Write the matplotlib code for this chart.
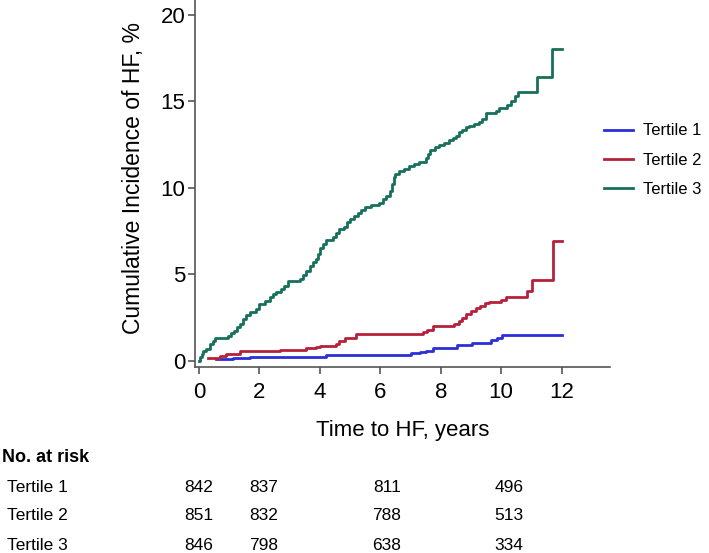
import matplotlib
matplotlib.use("Agg")
import matplotlib.pyplot as plt

plt.rcParams['font.family'] = ['Liberation Sans', 'DejaVu Sans']

# Tertile 3 (green)
t3_time = [0, 0.05, 0.1, 0.15, 0.25, 0.35, 0.45, 0.53, 0.97, 1.05, 1.15, 1.25, 1.35, 1.45,
           1.55, 1.68, 1.9, 2.0, 2.2, 2.34, 2.45, 2.56, 2.7, 2.8, 2.95, 3.33, 3.45, 3.55,
           3.66, 3.77, 3.88, 3.95, 4.02, 4.1, 4.21, 4.43, 4.55, 4.65, 4.8, 4.9, 5.0, 5.12,
           5.25, 5.35, 5.5, 5.7, 5.97, 6.08, 6.2, 6.32, 6.4, 6.45, 6.5, 6.63, 6.8, 6.96,
           7.1, 7.29, 7.51, 7.58, 7.65, 7.8, 7.95, 8.1, 8.28, 8.4, 8.5, 8.62, 8.72, 8.83,
           8.94, 9.1, 9.27, 9.38, 9.49, 9.65, 9.82, 9.93, 10.2, 10.32, 10.45, 10.54, 11.2,
           11.69, 12.0]
t3_cum = [0, 0.2, 0.4, 0.55, 0.7, 0.95, 1.15, 1.35, 1.45, 1.6, 1.75, 1.95, 2.15, 2.4,
          2.65, 2.85, 3.0, 3.3, 3.45, 3.7, 3.85, 4.0, 4.15, 4.35, 4.6, 4.75, 4.95, 5.2,
          5.5, 5.7, 5.9, 6.2, 6.5, 6.75, 6.97, 7.15, 7.4, 7.63, 7.75, 8.0, 8.2, 8.35,
          8.55, 8.7, 8.9, 9.0, 9.15, 9.35, 9.55, 9.8, 10.2, 10.6, 10.8, 10.95, 11.1, 11.25,
          11.4, 11.5, 11.7, 11.95, 12.2, 12.35, 12.5, 12.6, 12.75, 12.85, 13.0, 13.2, 13.35, 13.5,
          13.6, 13.7, 13.8, 14.0, 14.3, 14.35, 14.45, 14.64, 14.8, 15.0, 15.3, 15.55, 16.4,
          18.0, 18.0]

# Tertile 2 (red)
t2_time = [0.3, 0.69, 0.91, 1.35, 2.67, 3.55, 3.88, 3.99, 4.54, 4.65, 4.82, 5.2, 7.4,
           7.55, 7.73, 8.45, 8.6, 8.72, 8.85, 9.0, 9.16, 9.3, 9.45, 9.6, 9.99, 10.15,
           10.87, 11.03, 11.72, 12.0]
t2_cum = [0.15, 0.28, 0.4, 0.55, 0.65, 0.76, 0.82, 0.88, 1.0, 1.15, 1.33, 1.55, 1.65,
          1.8, 2.0, 2.15, 2.3, 2.5, 2.7, 2.9, 3.05, 3.2, 3.32, 3.42, 3.5, 3.72,
          4.05, 4.7, 6.9, 6.9]

# Tertile 1 (blue)
t1_time = [0.58, 1.13, 1.68, 4.21, 7.02, 7.3, 7.51, 7.73, 8.53, 9.05, 9.65, 9.85, 10.04, 12.0]
t1_cum = [0.1, 0.15, 0.25, 0.34, 0.44, 0.5, 0.6, 0.72, 0.9, 1.05, 1.2, 1.32, 1.48, 1.48]

series_labels = ["Tertile 1", "Tertile 2", "Tertile 3"]
series_colors = ["#2b2fd6", "#b5213a", "#17705c"]

x_ticks = [0, 2, 4, 6, 8, 10, 12]
y_ticks = [0, 5, 10, 15, 20]

risk_times = [0, 2.13, 6.22, 10.25]
risk_t1 = [842, 837, 811, 496]
risk_t2 = [851, 832, 788, 513]
risk_t3 = [846, 798, 638, 334]

fig = plt.figure(figsize=(7.09, 5.53), dpi=100)
ax = fig.add_axes([195/709, 1 - 367/553, (610-195)/709, 367/553])

lw = 2.0
ax.step(t1_time, t1_cum, where='post', color=series_colors[0], lw=lw, label=series_labels[0])
ax.step(t2_time, t2_cum, where='post', color=series_colors[1], lw=lw, label=series_labels[1])
ax.step(t3_time, t3_cum, where='post', color=series_colors[2], lw=lw, label=series_labels[2])

ax.set_xlim(-0.13, 13.6)
ax.set_ylim(-0.35, 20.85)
ax.set_xticks(x_ticks)
ax.set_yticks(y_ticks)
ax.tick_params(labelsize=16, color='#555555', length=5, width=1.2)
ax.tick_params(axis='y', pad=2)
ax.tick_params(axis='x', pad=6)
for s in ['top', 'right']:
    ax.spines[s].set_visible(False)
for s in ['left', 'bottom']:
    ax.spines[s].set_color('#555555')
    ax.spines[s].set_linewidth(1.2)

ax.set_ylabel("Cumulative Incidence of HF, %", fontsize=16.5)
ax.yaxis.set_label_coords(-0.12, 0.515)
ax.set_xlabel("Time to HF, years", fontsize=16, labelpad=12)

ax.legend(loc='center left', bbox_to_anchor=(604/709, 1 - 160/553), bbox_transform=fig.transFigure,
          frameon=False, fontsize=12, handlelength=1.75, handletextpad=0.6, labelspacing=0.85,
          borderaxespad=0, borderpad=0)

fig.text(2/709, 1 - 458/553, "No. at risk", fontsize=13, fontweight='bold', va='center', ha='left')
rows = [("Tertile 1", risk_t1, 487), ("Tertile 2", risk_t2, 516), ("Tertile 3", risk_t3, 546)]
for name, vals, ypix in rows:
    yf = 1 - ypix / 553
    fig.text(7/709, yf, name, fontsize=12.5, va='center', ha='left')
    for t, v in zip(risk_times, vals):
        xf = fig.transFigure.inverted().transform(ax.transData.transform((t, 0)))[0]
        fig.text(xf, yf, str(v), fontsize=12.5, va='center', ha='center')

fig.savefig("out.png", dpi=100)
